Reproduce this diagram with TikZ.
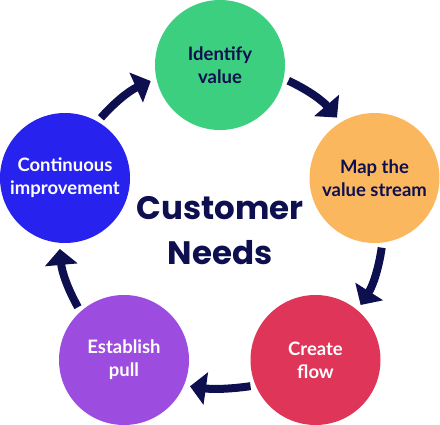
\documentclass[tikz,border=0pt]{standalone}
\usepackage{fontspec}
\setmainfont{Lato}
\newfontfamily\headfont{Poppins}
\usetikzlibrary{arrows.meta}
\definecolor{cgreen}{HTML}{3CCF80}
\definecolor{corange}{HTML}{FBB75E}
\definecolor{cblue}{HTML}{2822EE}
\definecolor{cred}{HTML}{DE3558}
\definecolor{cpurple}{HTML}{9C4DE0}
\definecolor{navy}{HTML}{0D0F4F}
\begin{document}
\begin{tikzpicture}[x=1pt,y=1pt,
  stage/.style={circle,minimum size=130pt,inner sep=0pt,align=center,
    font=\fontsize{18.5}{23}\selectfont\bfseries},
  flow/.style={line width=8pt,draw=navy,
    -{Triangle[length=16pt,width=32pt]},shorten <=5pt,shorten >=6pt},
  centre/.style={align=center,text=navy,font=\headfont\fontsize{32.5}{45}\selectfont\bfseries}]
\useasboundingbox (0,0) rectangle (440,-425);
\node[stage,fill=cgreen,text=navy] (identify) at (220,-65) {Identify\\value};
\node[stage,fill=corange,text=navy] (map) at (374.5,-178) {Map the\\value stream};
\node[stage,fill=cred,text=white] (create) at (315.5,-360) {Create\\flow};
\node[stage,fill=cpurple,text=white] (pull) at (124,-360) {Establish\\pull};
\node[stage,fill=cblue,text=white] (improve) at (65,-178) {Continuous\\improvement};
\node[centre] (needs) at (220,-231) {Customer\\Needs};
\draw[flow] (identify.-12) to[bend left=12] (map.121);
\draw[flow] (map.-83) to[bend left=12] (create.50);
\draw[flow] (create.203) to[bend left=8] (pull.-23);
\draw[flow] (pull.132) to[bend left=12] (improve.265);
\draw[flow] (improve.60) to[bend left=12] (identify.192);
\end{tikzpicture}
\end{document}
